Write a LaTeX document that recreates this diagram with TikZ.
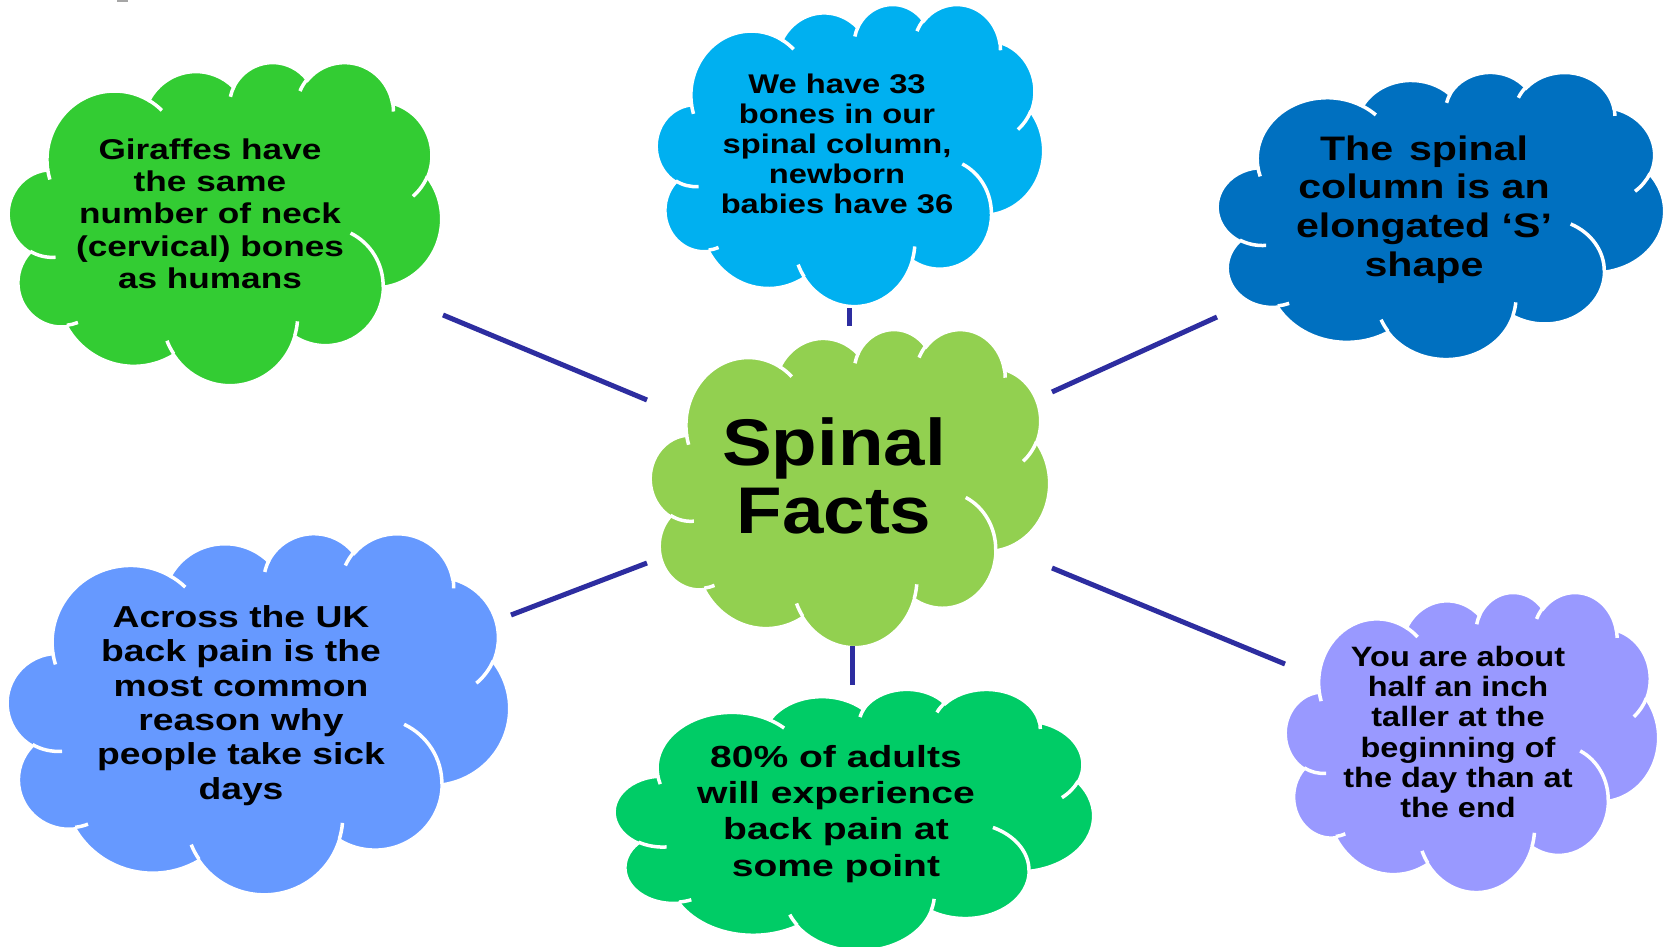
\documentclass[tikz,border=0pt]{standalone}
\usepackage{fontspec}
\setmainfont{Liberation Sans}
\newfontfamily\fsA[FakeStretch=1.13]{Liberation Sans}
\newfontfamily\fsB[FakeStretch=1.16]{Liberation Sans}
\newfontfamily\fsC[FakeStretch=1.21]{Liberation Sans}
\newfontfamily\fsE[FakeStretch=1.23]{Liberation Sans}
\newfontfamily\fsD[FakeStretch=1.28]{Liberation Sans}
\definecolor{cGir}{HTML}{33CC33}
\definecolor{cTop}{HTML}{00B0F0}
\definecolor{cSpine}{HTML}{0070C0}
\definecolor{cCtr}{HTML}{92D050}
\definecolor{cUK}{HTML}{6699FF}
\definecolor{cAdult}{HTML}{00CC66}
\definecolor{cTall}{HTML}{9999FF}
\definecolor{cLine}{RGB}{45,45,160}

% visual angle -> parametric angle for elliptical arcs
\newcommand\cldang[5]{%
  \pgfmathsetmacro\cldtmp{atan2((#2)*sin(#4),(#3)*cos(#4))}%
  \pgfmathsetmacro\cldtmp{\cldtmp+360*round(((#4)-\cldtmp)/360)}%
  \expandafter\let\csname clds#1\endcsname\cldtmp
  \pgfmathsetmacro\cldtmp{atan2((#2)*sin((#4)+(#5)),(#3)*cos((#4)+(#5)))}%
  \pgfmathsetmacro\cldtmp{\cldtmp+360*round(((#4)+(#5)-\cldtmp)/360)}%
  \expandafter\let\csname clde#1\endcsname\cldtmp
}
% outline lobes
\cldang{A}{6.753}{9.19}{-190.48748}{123.78053}
\cldang{B}{5.333}{7.267}{-144.10238}{89.94523}
\cldang{C}{4.365}{5.945}{-145.80792}{99.72302}
\cldang{D}{4.857}{6.595}{-130.98607}{117.24173}
\cldang{E}{5.333}{7.273}{-78.70888}{109.02692}
\cldang{F}{6.775}{9.22}{-46.26725}{130.269}
\cldang{G}{5.785}{7.867}{0.62502}{114.03333}
\cldang{H}{6.752}{9.215}{22.4516}{115.17255}
\cldang{I}{7.72}{10.543}{66.24263}{75.71102}
\cldang{J}{4.36}{5.918}{-274.94208}{146.73557}
\cldang{K}{4.345}{5.945}{-246.8285}{152.51885}
% inner arcs
\cldang{a}{4.345}{5.945}{86.742}{26.4295}
\cldang{b}{4.36}{5.918}{73.61047}{11.44747}
\cldang{c}{6.752}{9.215}{137.62415}{14.0811}
\cldang{d}{6.752}{9.215}{6.45327}{15.99835}
\cldang{e}{5.785}{7.867}{-70.29235}{70.91737}
\cldang{f}{5.333}{7.273}{30.31803}{27.7515}
\cldang{g}{4.857}{6.595}{-13.74433}{14.8589}
\cldang{h}{4.857}{6.595}{-149.18145}{18.19537}
\cldang{i}{4.365}{5.945}{-163.49427}{17.68635}
\cldang{j}{6.753}{9.19}{-66.70695}{12.31935}
\cldang{k}{6.753}{9.19}{157.65435}{11.85817}

\newcommand\cldoutline{(3.9,14.37)
 arc[x radius=6.753pt,y radius=9.19pt,start angle=\cldsA,end angle=\cldeA]
 arc[x radius=5.333pt,y radius=7.267pt,start angle=\cldsB,end angle=\cldeB]
 arc[x radius=4.365pt,y radius=5.945pt,start angle=\cldsC,end angle=\cldeC]
 arc[x radius=4.857pt,y radius=6.595pt,start angle=\cldsD,end angle=\cldeD]
 arc[x radius=5.333pt,y radius=7.273pt,start angle=\cldsE,end angle=\cldeE]
 arc[x radius=6.775pt,y radius=9.22pt,start angle=\cldsF,end angle=\cldeF]
 arc[x radius=5.785pt,y radius=7.867pt,start angle=\cldsG,end angle=\cldeG]
 arc[x radius=6.752pt,y radius=9.215pt,start angle=\cldsH,end angle=\cldeH]
 arc[x radius=7.72pt,y radius=10.543pt,start angle=\cldsI,end angle=\cldeI]
 arc[x radius=4.36pt,y radius=5.918pt,start angle=\cldsJ,end angle=\cldeJ]
 arc[x radius=4.345pt,y radius=5.945pt,start angle=\cldsK,end angle=\cldeK]
 -- cycle}
\newcommand\cldinner{(4.693,26.177)
 arc[x radius=4.345pt,y radius=5.945pt,start angle=\cldsa,end angle=\cldea]
 (6.928,34.899) arc[x radius=4.36pt,y radius=5.918pt,start angle=\cldsb,end angle=\cldeb]
 (16.478,39.09) arc[x radius=6.752pt,y radius=9.215pt,start angle=\cldsc,end angle=\cldec]
 (28.827,34.751) arc[x radius=6.752pt,y radius=9.215pt,start angle=\cldsd,end angle=\clded]
 (34.129,22.954) arc[x radius=5.785pt,y radius=7.867pt,start angle=\cldse,end angle=\cldee]
 (41.798,15.354) arc[x radius=5.333pt,y radius=7.273pt,start angle=\cldsf,end angle=\cldef]
 (38.324,5.426) arc[x radius=4.857pt,y radius=6.595pt,start angle=\cldsg,end angle=\cldeg]
 (29.078,3.952) arc[x radius=4.857pt,y radius=6.595pt,start angle=\cldsh,end angle=\cldeh]
 (22.141,4.72) arc[x radius=4.365pt,y radius=5.945pt,start angle=\cldsi,end angle=\cldei]
 (14.0,5.192) arc[x radius=6.753pt,y radius=9.19pt,start angle=\cldsj,end angle=\cldej]
 (4.127,15.789) arc[x radius=6.753pt,y radius=9.19pt,start angle=\cldsk,end angle=\cldek]}

% #1 colour, #2 left, #3 top, #4 right, #5 bottom (image pixels)
\newcommand\cloudat[5]{%
  \begin{scope}[shift={(#2,#3)},xscale={(#4-#2)/43.2},yscale={(#5-#3)/43.2}]
    \fill[#1] \cldoutline;
    \draw[cloudline] \cldoutline;
    \draw[cloudline] \cldinner;
  \end{scope}}

\tikzset{
  cloudline/.style={white,line width=3.5pt},
  txt/.style={inner sep=0pt,align=center,text=black},
  conn/.style={cLine,line width=5pt}
}

\begin{document}
\begin{tikzpicture}[x=1pt,y=1pt]
\begin{scope}[yscale=-1]
\useasboundingbox (0,0) rectangle (1665,947);
\fill[white] (0,0) rectangle (1665,947);
\fill[gray!70] (117,0) rectangle (128,2);

\cloudat{cGir}{8.5}{61.5}{441.5}{384.5}
\cloudat{cTop}{656.5}{3.5}{1043.5}{305.5}
\cloudat{cSpine}{1217.5}{71.5}{1664.5}{358.5}
\cloudat{cCtr}{650.5}{328.5}{1049.5}{646.5}
\cloudat{cUK}{7.5}{532.5}{509.5}{893.5}
\cloudat{cAdult}{614.5}{688.5}{1093.5}{950}
\cloudat{cTall}{1285.5}{591.5}{1658.5}{891.5}

\node[txt,font=\fsE\bfseries\fontsize{28.6}{32.25}\selectfont] (giraffe) at (210,217.5)
  {\strut Giraffes have\\\strut the same\\\strut number of neck\\\strut (cervical) bones\\\strut as humans};
\node[txt,font=\fsC\bfseries\fontsize{27}{30}\selectfont] (bones) at (837,147.8)
  {\strut We have 33\\\strut bones in our\\\strut spinal column,\\\strut newborn\\\strut babies have 36};
\node[txt,font=\fsC\bfseries\fontsize{34}{38.6}\selectfont] (sshape) at (1424,210.5)
  {\spaceskip=16pt\relax\strut The spinal\\\strut column is an\\\strut elongated ‘S’\\\strut shape};
\node[txt,font=\fsA\bfseries\fontsize{66}{67.7}\selectfont] (center) at (834,486)
  {\strut Spinal\\\strut Facts};
\node[txt,font=\fsE\bfseries\fontsize{30.3}{34.3}\selectfont] (ukpain) at (241,706.5)
  {\strut Across the UK\\\strut back pain is the\\\strut most common\\\strut reason why\\\strut people take sick\\\strut days};
\node[txt,font=\fsD\bfseries\fontsize{30.5}{36.3}\selectfont] (adults) at (836,814.5)
  {\strut 80\% of adults\\\strut will experience\\\strut back pain at\\\strut some point};
\node[txt,font=\fsB\bfseries\fontsize{28}{30.1}\selectfont] (taller) at (1458,736)
  {\strut You are about\\\strut half an inch\\\strut taller at the\\\strut beginning of\\\strut the day than at\\\strut the end};

\coordinate (g1) at (443,315);  \coordinate (g2) at (647,400);
\coordinate (t1) at (849,308);  \coordinate (t2) at (849,326);
\coordinate (s1) at (1052,392); \coordinate (s2) at (1217,317);
\coordinate (u1) at (511,615);  \coordinate (u2) at (647,563);
\coordinate (a1) at (852,646);  \coordinate (a2) at (852,685);
\coordinate (h1) at (1052,568); \coordinate (h2) at (1285,664);
\draw[conn] (g1) -- (g2);
\draw[conn] (t1) -- (t2);
\draw[conn] (s1) -- (s2);
\draw[conn] (u1) -- (u2);
\draw[conn] (a1) -- (a2);
\draw[conn] (h1) -- (h2);
\end{scope}
\end{tikzpicture}
\end{document}
